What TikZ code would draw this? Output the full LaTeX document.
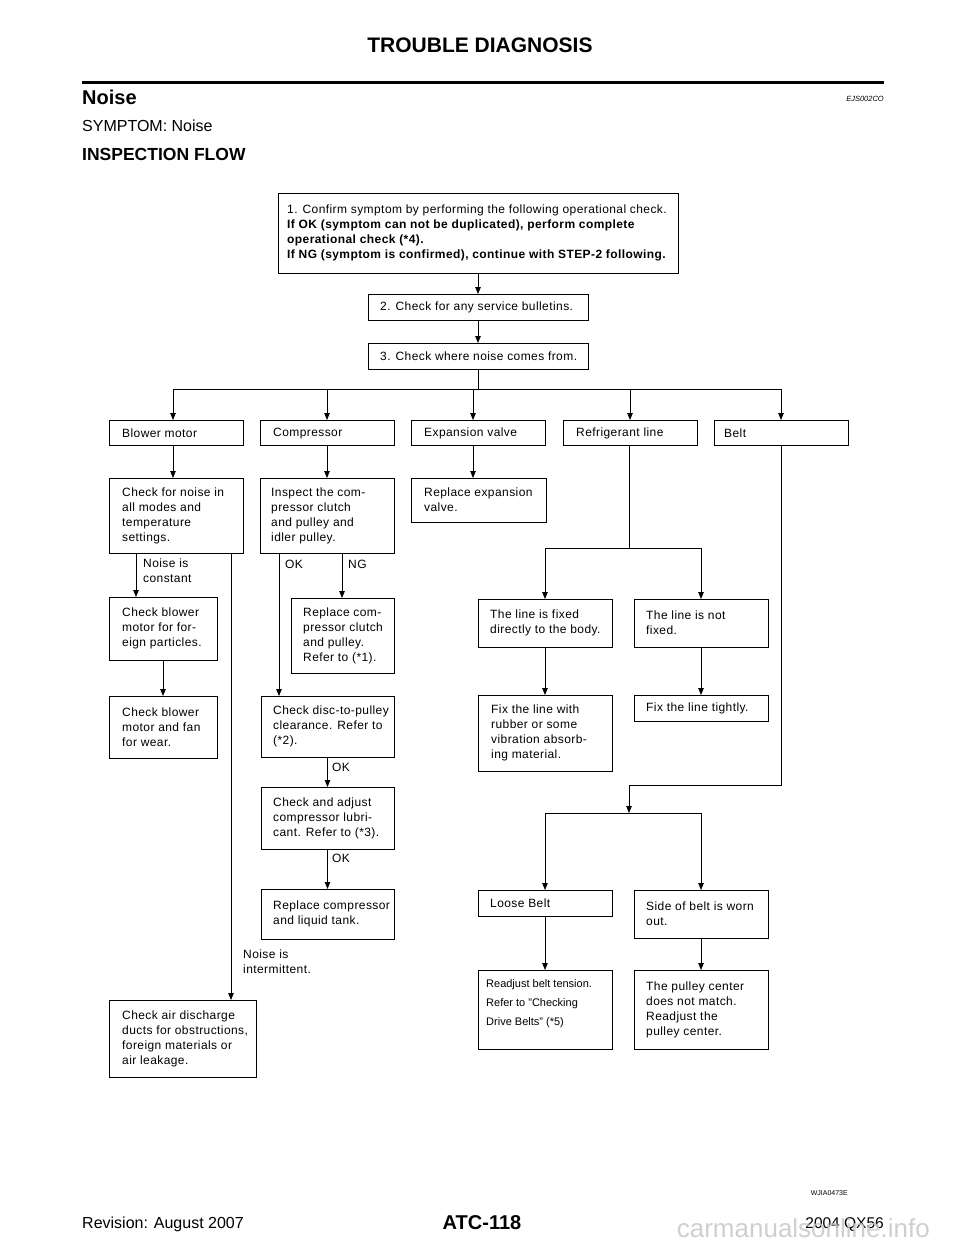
\documentclass[tikz,border=0pt]{standalone}
\usepackage{fontspec}
\setmainfont{Liberation Sans}
\newfontfamily\boxfont[LetterSpace=3.5]{Liberation Sans}
\usetikzlibrary{arrows.meta}

\tikzset{
  box/.style={draw,line width=1pt,anchor=north west,inner sep=0pt,outer sep=0pt},
  txt/.style={anchor=west,align=left,inner sep=0pt,font=\boxfont\fontsize{12pt}{15pt}\selectfont},
  small/.style={anchor=west,align=left,inner sep=0pt,font=\fontsize{11pt}{19pt}\selectfont},
  lbl/.style={anchor=base west,align=left,inner sep=0pt,font=\boxfont\fontsize{12pt}{15pt}\selectfont},
  arr/.style={-{Triangle[width=5.5pt,length=7pt]},line width=0.8pt},
  link/.style={line width=0.8pt}
}

\begin{document}
\begin{tikzpicture}[x=1pt,y=-1pt,line cap=butt,line join=miter]
  \useasboundingbox (0,0) rectangle (960,1242);

  % page head
  \node[anchor=base,inner sep=0pt,font=\bfseries\fontsize{21pt}{21pt}\selectfont] (title) at (480,52) {TROUBLE DIAGNOSIS};
  \draw[line width=3pt] (82,82) -- (884,82);
  \node[anchor=base west,inner sep=0pt,font=\bfseries\fontsize{20pt}{20pt}\selectfont] (noisehead) at (82,104) {Noise};
  \node[anchor=base east,inner sep=0pt,font=\itshape\fontsize{7.5pt}{8pt}\selectfont] (code) at (884,101) {EJS002CO};
  \node[anchor=base west,inner sep=0pt,font=\fontsize{16pt}{16pt}\selectfont] (symptom) at (82,131) {SYMPTOM: Noise};
  \node[anchor=base west,inner sep=0pt,font=\bfseries\fontsize{17.5pt}{18pt}\selectfont] (flowhead) at (82,160) {INSPECTION FLOW};

  % steps 1-3
  \node[box,minimum width=400pt,minimum height=80pt] (b1) at (278,193) {};
  \node[txt] (b1-t) at ([xshift=9pt]b1.west) {1. Confirm symptom by performing the following operational check.\\
    \textbf{If OK (symptom can not be duplicated), perform complete}\\
    \textbf{operational check (*4).}\\
    \textbf{If NG (symptom is confirmed), continue with STEP-2 following.}};
  \node[box,minimum width=220pt,minimum height=26pt] (b2) at (368,294) {};
  \node[txt] (b2-t) at ([xshift=12pt]b2.west) {2. Check for any service bulletins.};
  \node[box,minimum width=220pt,minimum height=26pt] (b3) at (368,343) {};
  \node[txt] (b3-t) at ([xshift=12pt]b3.west) {3. Check where noise comes from.};
  \coordinate (bus) at (478,389);

  % where the noise comes from
  \node[box,minimum width=134pt,minimum height=25pt] (blower) at (109,420) {};
  \node[txt] (blower-t) at ([xshift=13pt,yshift=-0.5pt]blower.west) {Blower motor};
  \node[box,minimum width=134pt,minimum height=25pt] (comp) at (260,420) {};
  \node[txt] (comp-t) at ([xshift=13pt,yshift=-1pt]comp.west) {Compressor};
  \node[box,minimum width=134pt,minimum height=25pt] (expv) at (411,420) {};
  \node[txt] (expv-t) at ([xshift=13pt,yshift=-1pt]expv.west) {Expansion valve};
  \node[box,minimum width=134pt,minimum height=25pt] (refl) at (563,420) {};
  \node[txt] (refl-t) at ([xshift=13pt,yshift=-1pt]refl.west) {Refrigerant line};
  \node[box,minimum width=134pt,minimum height=25pt] (belt) at (714,420) {};
  \node[txt] (belt-t) at ([xshift=10pt,yshift=-0.5pt]belt.west) {Belt};

  % blower motor
  \node[box,minimum width=134pt,minimum height=75pt] (noise) at (109,478) {};
  \node[txt] (noise-t) at ([xshift=13pt]noise.west) {Check for noise in\\all modes and\\temperature\\settings.};
  \node[box,minimum width=108pt,minimum height=63pt] (blfor) at (109,597) {};
  \node[txt] (blfor-t) at ([xshift=13pt]blfor.west) {Check blower\\motor for for-\\eign particles.};
  \node[box,minimum width=108pt,minimum height=62pt] (blfan) at (109,696) {};
  \node[txt] (blfan-t) at ([xshift=13pt]blfan.west) {Check blower\\motor and fan\\for wear.};
  \node[box,minimum width=147pt,minimum height=77pt] (air) at (109,1000) {};
  \node[txt] (air-t) at ([xshift=13pt]air.west) {Check air discharge\\ducts for obstructions,\\foreign materials or\\air leakage.};

  % compressor
  \node[box,minimum width=134pt,minimum height=75pt] (insp) at (260,478) {};
  \node[txt] (insp-t) at ([xshift=11pt]insp.west) {Inspect the com-\\pressor clutch\\and pulley and\\idler pulley.};
  \node[box,minimum width=103pt,minimum height=75pt] (repcl) at (291,598) {};
  \node[txt] (repcl-t) at ([xshift=12pt]repcl.west) {Replace com-\\pressor clutch\\and pulley.\\Refer to (*1).};
  \node[box,minimum width=133pt,minimum height=61pt] (disc) at (261,696) {};
  \node[txt] (disc-t) at ([xshift=12pt]disc.west) {Check disc-to-pulley\\clearance. Refer to\\(*2).};
  \node[box,minimum width=133pt,minimum height=62pt] (lubri) at (261,787) {};
  \node[txt] (lubri-t) at ([xshift=12pt]lubri.west) {Check and adjust\\compressor lubri-\\cant. Refer to (*3).};
  \node[box,minimum width=133pt,minimum height=50pt] (repcomp) at (261,889) {};
  \node[txt] (repcomp-t) at ([xshift=12pt]repcomp.west) {Replace compressor\\and liquid tank.};

  % expansion valve
  \node[box,minimum width=135pt,minimum height=44pt] (repexp) at (411,478) {};
  \node[txt] (repexp-t) at ([xshift=13pt]repexp.west) {Replace expansion\\valve.};

  % refrigerant line
  \node[box,minimum width=134pt,minimum height=48pt] (lfix) at (478,599) {};
  \node[txt] (lfix-t) at ([xshift=12pt]lfix.west) {The line is fixed\\directly to the body.};
  \node[box,minimum width=134pt,minimum height=48pt] (lnot) at (634,599) {};
  \node[txt] (lnot-t) at ([xshift=12pt]lnot.west) {The line is not\\fixed.};
  \node[box,minimum width=134pt,minimum height=76pt] (fixw) at (478,695) {};
  \node[txt] (fixw-t) at ([xshift=13pt]fixw.west) {Fix the line with\\rubber or some\\vibration absorb-\\ing material.};
  \node[box,minimum width=134pt,minimum height=26pt] (fixt) at (634,695) {};
  \node[txt] (fixt-t) at ([xshift=12pt]fixt.west) {Fix the line tightly.};
  \coordinate (rsplit) at (629,548);

  % belt
  \node[box,minimum width=134pt,minimum height=26pt] (loose) at (478,890) {};
  \node[txt] (loose-t) at ([xshift=12pt]loose.west) {Loose Belt};
  \node[box,minimum width=134pt,minimum height=48pt] (side) at (634,890) {};
  \node[txt] (side-t) at ([xshift=12pt]side.west) {Side of belt is worn\\out.};
  \node[box,minimum width=134pt,minimum height=79pt] (readj) at (478,970) {};
  \node[small] (readj-t) at ([xshift=8pt,yshift=6pt]readj.west) {Readjust belt tension.\\Refer to "Checking\\Drive Belts" (*5)};
  \node[box,minimum width=134pt,minimum height=79pt] (pulc) at (634,970) {};
  \node[txt] (pulc-t) at ([xshift=12pt]pulc.west) {The pulley center\\does not match.\\Readjust the\\pulley center.};
  \coordinate (bturn) at (629,785);
  \coordinate (bsplit) at (629,813);

  % connectors
  \draw[arr] (b1.south) -- (b2.north);
  \draw[arr] (b2.south) -- (b3.north);
  \draw[link] (b3.south) -- (bus);
  \draw[arr] (bus) -| ([xshift=-3pt]blower.north);
  \draw[arr] (bus) -| (comp.north);
  \draw[arr] (bus) -| ([xshift=-5pt]expv.north);
  \draw[arr] (bus) -| (refl.north);
  \draw[arr] (bus) -| (belt.north);

  \draw[arr] ([xshift=-3pt]blower.south) -- ([xshift=-3pt]noise.north);
  \draw[arr] ([xshift=27pt]noise.south west) -- ([xshift=27pt]blfor.north west);
  \draw[arr] ([xshift=54pt]blfor.south west) -- ([xshift=54pt]blfan.north west);
  \draw[arr] ([xshift=122pt]noise.south west) -- ([xshift=122pt]air.north west);
  \node[lbl] (constant) at (143,582) {Noise is\\constant};
  \node[lbl] (intermit) at (243,973) {Noise is\\intermittent.};

  \draw[arr] (comp.south) -- (insp.north);
  \draw[arr] ([xshift=19pt]insp.south west) -- ([xshift=19pt]insp.south west |- disc.north);
  \draw[arr] ([xshift=82pt]insp.south west) -- ([xshift=82pt]insp.south west |- repcl.north);
  \draw[arr] (disc.south) -- (lubri.north);
  \draw[arr] (lubri.south) -- (repcomp.north);
  \node[lbl] (ok1) at (285,568) {OK};
  \node[lbl] (ng1) at (348,568) {NG};
  \node[lbl] (ok2) at (332,771) {OK};
  \node[lbl] (ok3) at (332,862) {OK};

  \draw[arr] ([xshift=-5pt]expv.south) -- ([xshift=-5pt]expv.south |- repexp.north);

  \draw[link] ([xshift=-1pt]refl.south) -- (rsplit);
  \draw[arr] (rsplit) -| (lfix.north);
  \draw[arr] (rsplit) -| (lnot.north);
  \draw[arr] (lfix.south) -- (fixw.north);
  \draw[arr] (lnot.south) -- (fixt.north);

  \draw[arr] (belt.south) |- (bturn) -- (bsplit);
  \draw[arr] (bsplit) -| (loose.north);
  \draw[arr] (bsplit) -| (side.north);
  \draw[arr] (loose.south) -- (readj.north);
  \draw[arr] (side.south) -- (pulc.north);

  % page foot
  \node[anchor=base east,inner sep=0pt,font=\fontsize{7pt}{8pt}\selectfont] (figcode) at (848,1195) {WJIA0473E};
  \node[anchor=base west,inner sep=0pt,font=\fontsize{16pt}{16pt}\selectfont] (rev) at (82,1228) {Revision: August 2007};
  \node[anchor=base,inner sep=0pt,font=\bfseries\fontsize{20pt}{20pt}\selectfont] (page) at (482,1229) {ATC-118};
  \node[anchor=base east,inner sep=0pt,font=\fontsize{15.5pt}{16pt}\selectfont] (model) at (884,1228) {2004 QX56};
  \node[anchor=base east,inner sep=0pt,text=black!22,opacity=0.85,font=\fontsize{26pt}{26pt}\selectfont] (mark) at (930,1237) {carmanualsonline.info};
\end{tikzpicture}
\end{document}
